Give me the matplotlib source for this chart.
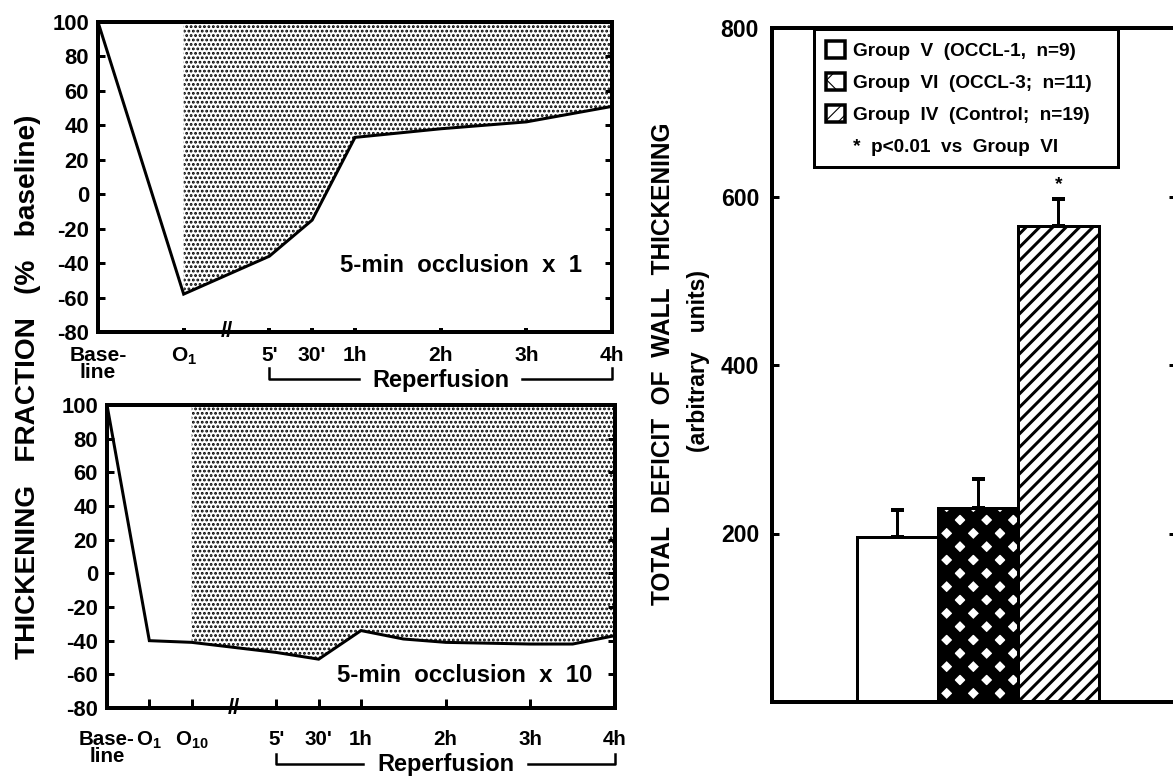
import matplotlib
matplotlib.use('Agg')
import matplotlib.pyplot as plt
import matplotlib.transforms as mtransforms
from matplotlib.patches import Patch

plt.rcParams['font.family'] = ['Liberation Sans', 'DejaVu Sans']
plt.rcParams['font.weight'] = 'bold'
plt.rcParams['mathtext.fontset'] = 'custom'
plt.rcParams['mathtext.rm'] = 'Liberation Sans:bold'
plt.rcParams['mathtext.bf'] = 'Liberation Sans:bold'
plt.rcParams['mathtext.it'] = 'Liberation Sans:bold'
plt.rcParams['hatch.color'] = 'black'

# ---------------- data ----------------
# x positions: Baseline=0, O1/O10, break at 3, 5'=4, 30'=5, 1h=6, 2h=8, 3h=10, 4h=12
top_x = [0, 2, 4, 5, 6, 8, 10, 12]
top_y = [100, -58, -36, -15, 33, 38, 42, 51]
top_fill_start = 2
top_tick_pos = [0, 2, 4, 5, 6, 8, 10, 12]
top_tick_labels = ['Base-\nline', r'$\mathbf{O_1}$', "5'", "30'", '1h', '2h', '3h', '4h']
top_note = '5-min  occlusion  x  1'

bot_x = [0, 1, 2, 4, 5, 6, 7, 8, 10, 11, 12]
bot_y = [100, -40, -41, -47, -51, -34, -39, -41, -42, -42, -37]
bot_fill_start = 2
bot_tick_pos = [0, 1, 2, 4, 5, 6, 8, 10, 12]
bot_tick_labels = ['Base-\nline', r'$\mathbf{O_1}$', r'$\mathbf{O_{10}}$', "5'", "30'",
                   '1h', '2h', '3h', '4h']
bot_note = '5-min  occlusion  x  10'

y_ticks = [-80, -60, -40, -20, 0, 20, 40, 60, 80, 100]
break_x = 3
reperf_start, reperf_mid, reperf_end = 4, 8, 12

groups = ['Group  V  (OCCL-1,  n=9)', 'Group  VI  (OCCL-3;  n=11)',
          'Group  IV  (Control;  n=19)']
deficit = [196, 230, 565]
deficit_sem = [32, 35, 32]
significant = [False, False, True]
sig_note = '*  p<0.01  vs  Group  VI'
right_ticks = [200, 400, 600, 800]

# ---------------- figure ----------------
DPI = 80
W, H = 1173, 777


def pt(px):
    return px * 72.0 / DPI


fig = plt.figure(figsize=(W / DPI, H / DPI), dpi=DPI)


def axes_px(l, t, r, b):
    return fig.add_axes([l / W, 1 - b / H, (r - l) / W, (b - t) / H])


def set_hlw(artist, lw):
    if hasattr(artist, 'set_hatch_linewidth'):
        artist.set_hatch_linewidth(lw)


DOT_LW = 1.7


def line_panel(ax, xs, ys, fill_start, tick_pos, tick_labels, xtick_len, xtick_w,
               xpad, xfs, note, note_xy, br_line, br_top, br_text, gaps):
    ax.set_xlim(0, 12)
    ax.set_ylim(-80, 100)
    idx = [i for i, v in enumerate(xs) if v >= fill_start]
    fx = [xs[i] for i in idx]
    fy = [ys[i] for i in idx]
    with plt.rc_context({'hatch.linewidth': DOT_LW}):
        coll = ax.fill_between(fx, fy, 100, facecolor='white', edgecolor='black',
                               hatch='...', linewidth=0, zorder=1)
    set_hlw(coll, DOT_LW)
    ax.plot(xs, ys, color='black', lw=pt(3), zorder=3, clip_on=False,
            solid_joinstyle='miter')
    for s in ax.spines.values():
        s.set_linewidth(pt(4))
        s.set_zorder(4)
    ax.set_yticks(y_ticks)
    ax.set_yticklabels([str(v) for v in y_ticks])
    ax.tick_params(axis='y', which='both', direction='in', length=pt(7), width=pt(3),
                   right=True, left=True, labelsize=pt(22), pad=pt(9))
    ax.set_xticks(tick_pos)
    ax.set_xticklabels(tick_labels)
    ax.tick_params(axis='x', direction='in', length=xtick_len, width=xtick_w,
                   labelsize=xfs, pad=xpad)
    for lab in ax.get_xticklabels():
        lab.set_linespacing(0.85)
    ax.text(break_x, -80, '//', ha='center', va='center', fontsize=pt(22),
            clip_on=False, zorder=5)
    ax.text(note_xy[0], note_xy[1], note, ha='center', va='baseline', fontsize=pt(24))
    trans = mtransforms.blended_transform_factory(ax.transData, ax.transAxes)
    ax.plot([reperf_start, reperf_start, gaps[0]], [br_top, br_line, br_line],
            transform=trans, clip_on=False, color='black', lw=pt(2.5))
    ax.plot([gaps[1], reperf_end, reperf_end], [br_line, br_line, br_top],
            transform=trans, clip_on=False, color='black', lw=pt(2.5))
    ax.text(reperf_mid, br_text, 'Reperfusion', transform=trans, ha='center',
            va='baseline', fontsize=pt(23.5))


ax1 = axes_px(98, 22, 612, 332)
line_panel(ax1, top_x, top_y, top_fill_start, top_tick_pos, top_tick_labels,
           pt(4), pt(4), pt(14), pt(21), top_note, (8.47, -45),
           -0.152, -0.116, -0.177, (6.1, 9.9))

ax2 = axes_px(107, 405, 615, 708)
line_panel(ax2, bot_x, bot_y, bot_fill_start, bot_tick_pos, bot_tick_labels,
           pt(9), pt(3), pt(22), pt(20.5), bot_note, (8.45, -64.5),
           -0.185, -0.152, -0.207, (6.05, 9.95))

fig.text(28 / W, 1 - 387 / H, 'THICKENING   FRACTION   (%   baseline)', rotation=90,
         ha='center', va='center', fontsize=pt(28))

# ---------------- bar panel ----------------
ax3 = axes_px(772, 28, 1176, 702)
bar_x = [i + 1 for i in range(len(groups))]
hatches = [None, 'x', '//']
hatch_lws = [1.0, pt(11), pt(3)]
bars = []
for x, v, h, hl in zip(bar_x, deficit, hatches, hatch_lws):
    with plt.rc_context({'hatch.linewidth': hl}):
        b = ax3.bar([x], [v], width=1.0, facecolor='white', edgecolor='black',
                    linewidth=pt(3), hatch=h, zorder=2)[0]
    set_hlw(b, hl)
    bars.append(b)
ax3.errorbar(bar_x, deficit, yerr=[[0] * len(deficit), deficit_sem], fmt='none',
             ecolor='black', elinewidth=pt(3), capsize=pt(6.5), capthick=pt(4), zorder=3)
for x, v, e, s in zip(bar_x, deficit, deficit_sem, significant):
    if s:
        ax3.annotate('*', xy=(x, v + e), xytext=(0, pt(6)), textcoords='offset points',
                     ha='center', va='bottom', fontsize=pt(19))
ax3.set_xlim(-0.556, 4.46)
ax3.set_ylim(0, 800)
ax3.set_xticks([])
ax3.set_yticks(right_ticks)
ax3.set_yticklabels([str(v) for v in right_ticks])
ax3.tick_params(axis='y', direction='in', length=pt(7), width=pt(3), right=True,
                labelsize=pt(23), pad=pt(13))
for s in ax3.spines.values():
    s.set_linewidth(pt(4))

handles = []
for h, hl in zip(hatches, hatch_lws):
    hlw = min(hl, pt(5))
    with plt.rc_context({'hatch.linewidth': hlw}):
        p = Patch(facecolor='white', edgecolor='black', linewidth=pt(3.5), hatch=h)
    set_hlw(p, hlw)
    handles.append(p)
handles.append(Patch(facecolor='none', edgecolor='none'))
leg = ax3.legend(handles, groups + [sig_note], loc='upper left',
                 bbox_to_anchor=(814 / W, 1 - 169 / H, 304 / W, 140 / H),
                 bbox_transform=fig.transFigure, mode='expand',
                 prop={'size': pt(19), 'weight': 'bold'}, frameon=True,
                 fancybox=False, edgecolor='black', framealpha=1, borderaxespad=0,
                 handlelength=1.0, handleheight=1.0, handletextpad=0.45,
                 labelspacing=0.68, borderpad=0.62)
leg.get_frame().set_linewidth(pt(3))

fig.text(663 / W, 1 - 364 / H, 'TOTAL  DEFICIT  OF  WALL  THICKENING', rotation=90,
         ha='center', va='center', fontsize=pt(24.5))
fig.text(698 / W, 1 - 361 / H, '(arbitrary   units)', rotation=90,
         ha='center', va='center', fontsize=pt(23))

fig.savefig('out.png', dpi=DPI)
